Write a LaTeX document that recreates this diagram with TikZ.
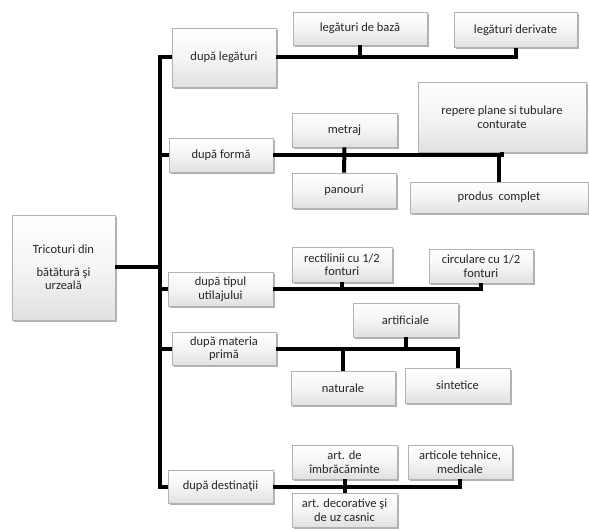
\documentclass[tikz,border=0pt]{standalone}
\usepackage{fontspec}
\setmainfont{Carlito}
\usetikzlibrary{shadows}
\tikzset{
  box/.style={draw=gray!60, line width=0.6pt, top color=white, bottom color=gray!24,
    middle color=gray!8,
    drop shadow={shadow xshift=1.5pt, shadow yshift=-2pt, opacity=0.3, fill=black},
    align=center, inner sep=2pt, font=\fontsize{12.5}{13.5}\selectfont, text=black!85},
  conn/.style={line width=4pt, black},
}
\begin{document}
\begin{tikzpicture}[x=1pt,y=-1pt]
\useasboundingbox (0,0) rectangle (589,529);
% nodes
\node[box, minimum width=103pt, minimum height=105pt] (root) at (63.5,267.5) {Tricoturi din\\[9pt]bătătură şi\\urzeală};
\node[box, minimum width=104pt, minimum height=59pt] (legaturi) at (224,57.5) {după legături};
\node[box, minimum width=104pt, minimum height=34pt] (forma) at (221,155) {după formă};
\node[box, minimum width=105pt, minimum height=34pt] (tipul) at (220.5,289) {după tipul\\utilajului};
\node[box, minimum width=104pt, minimum height=33pt] (materia) at (224,348.5) {după materia\\primă};
\node[box, minimum width=105pt, minimum height=33pt] (destinatii) at (220.5,486.5) {după destinaţii};
\node[box, minimum width=134pt, minimum height=33pt] (baza) at (360,28.5) {legături de bază};
\node[box, minimum width=123pt, minimum height=35pt] (derivate) at (515.5,30) {legături derivate};
\node[box, minimum width=168pt, minimum height=70pt] (repere) at (502,117) {repere plane si tubulare\\conturate};
\node[box, minimum width=105pt, minimum height=34pt] (metraj) at (344.5,130) {metraj};
\node[box, minimum width=104pt, minimum height=35pt] (panouri) at (344,190.5) {panouri};
\node[box, minimum width=178pt, minimum height=31pt] (produs) at (499,197.5) {produs\ \ complet};
\node[box, minimum width=100pt, minimum height=35pt] (rectilinii) at (342,264.5) {rectilinii cu 1/2\\fonturi};
\node[box, minimum width=104pt, minimum height=34pt] (circulare) at (481,266) {circulare cu 1/2\\fonturi};
\node[box, minimum width=105pt, minimum height=34pt] (artificiale) at (405.5,320) {artificiale};
\node[box, minimum width=104pt, minimum height=34pt] (naturale) at (343,388) {naturale};
\node[box, minimum width=105pt, minimum height=35pt] (sintetice) at (457.5,385.5) {sintetice};
\node[box, minimum width=105pt, minimum height=34pt] (imbr) at (344.5,462) {art. de\\îmbrăcăminte};
\node[box, minimum width=104pt, minimum height=34pt] (tehnice) at (460,462) {articole tehnice,\\medicale};
\node[box, minimum width=105pt, minimum height=34pt] (decor) at (344.5,510) {art. decorative şi\\de uz casnic};
% trunk
\coordinate (jt) at (160,0);
\draw[conn] (root.east) -- (root.east -| jt);
\draw[conn] (legaturi.west) -- (legaturi.west -| jt) -- (destinatii.west -| jt) -- (destinatii.west);
\draw[conn] (forma.west) -- (forma.west -| jt);
\draw[conn] (tipul.west) -- (tipul.west -| jt);
\draw[conn] (materia.west) -- (materia.west -| jt);
% legaturi
\draw[conn] (legaturi.east) -- (legaturi.east -| derivate.south) -- (derivate.south);
\draw[conn] (baza.south) -- (baza.south |- legaturi.east);
% forma
\draw[conn] (forma.east) -- (forma.east -| repere.south) -- (repere.south);
\draw[conn] (metraj.south) -- (panouri.north);
\draw[conn] (produs.north) -- (produs.north |- forma.east);
% tipul
\draw[conn] (tipul.east) -- (tipul.east -| circulare.south) -- (circulare.south);
\draw[conn] (rectilinii.south) -- (rectilinii.south |- tipul.east);
% materia
\draw[conn] (materia.east) -- (materia.east -| sintetice.north) -- (sintetice.north);
\draw[conn] (artificiale.south) -- (artificiale.south |- materia.east);
\draw[conn] (naturale.north) -- (naturale.north |- materia.east);
% destinatii
\draw[conn] (destinatii.east) -- (destinatii.east -| tehnice.south) -- (tehnice.south);
\draw[conn] (imbr.south) -- (decor.north);
\end{tikzpicture}
\end{document}
